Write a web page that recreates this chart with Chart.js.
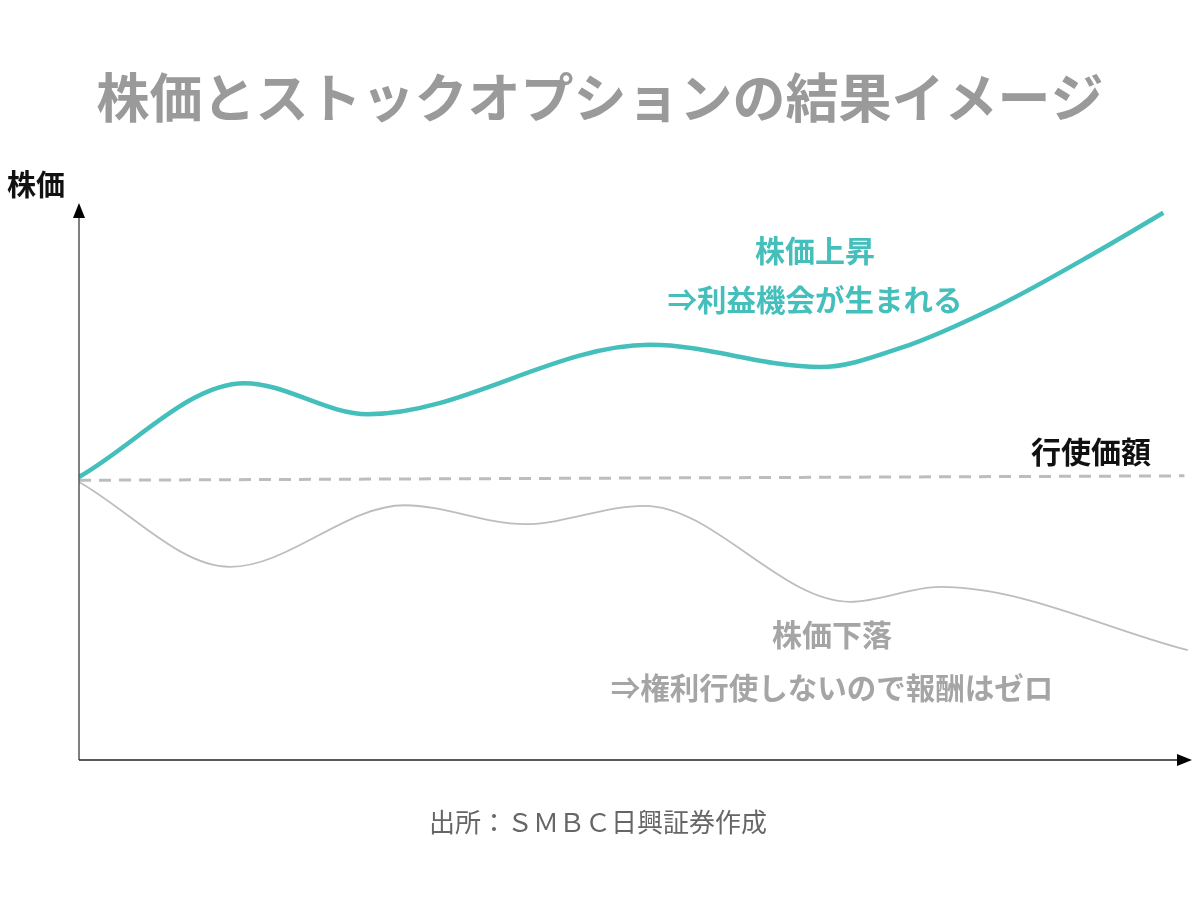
<!DOCTYPE html>
<html lang="ja">
<head>
<meta charset="utf-8">
<title>株価とストックオプションの結果イメージ</title>
<script src="https://cdn.jsdelivr.net/npm/chart.js@4.4.1/dist/chart.umd.min.js"></script>
<style>
  html, body { margin: 0; padding: 0; background: #fff; }
  #wrap { width: 1200px; height: 904px; }
</style>
</head>
<body>
<div id="wrap"><canvas id="optionChart" width="1200" height="904"></canvas></div>
<script>
// Image chart: values are abstract (time 0-100, price 0-100)
const riseX = [0, 14.9, 26.0, 51.4, 66.7, 73.9, 82.9, 91.9, 97.6];
const riseY = [51.0, 67.9, 62.3, 74.8, 70.8, 74.2, 82.0, 91.9, 98.6];

const fallX = [0, 13.6, 29.3, 40.1, 50.9, 69.4, 77.5, 99.8];
const fallY = [50.1, 34.8, 45.9, 42.5, 45.8, 28.5, 31.2, 19.8];

const strikeX = [0, 99.5];
const strikeY = [50.4, 51.2];

const titleText = '株価とストックオプションの結果イメージ';
const yAxisLabel = '株価';
const strikeLabel = '行使価額';
const riseLabels = ['株価上昇', '⇒利益機会が生まれる'];
const fallLabels = ['株価下落', '⇒権利行使しないので報酬はゼロ'];
const sourceText = '出所：ＳＭＢＣ日興証券作成';

const toPoints = (xs, ys) => xs.map((x, i) => ({ x, y: ys[i] }));

const FONT = '"Noto Sans CJK JP", "Noto Sans", sans-serif';
const TEAL = '#45bfbc';
const GRAY = '#bdbdbd';

const decorPlugin = {
  id: 'decor',
  afterDraw(chart) {
    const { ctx, chartArea } = chart;
    const left = chartArea.left;
    const bottom = chartArea.bottom;

    ctx.save();
    // axes with arrows
    ctx.lineWidth = 1.5;
    ctx.strokeStyle = '#555';
    ctx.beginPath();
    ctx.moveTo(left, bottom);
    ctx.lineTo(left, chartArea.top + 10);
    ctx.stroke();
    ctx.strokeStyle = '#222';
    ctx.beginPath();
    ctx.moveTo(left, bottom);
    ctx.lineTo(chartArea.right - 10, bottom);
    ctx.stroke();

    ctx.fillStyle = '#000';
    ctx.beginPath();
    ctx.moveTo(left, chartArea.top - 2);
    ctx.lineTo(left - 6, chartArea.top + 13);
    ctx.lineTo(left + 6, chartArea.top + 13);
    ctx.closePath();
    ctx.fill();
    ctx.beginPath();
    ctx.moveTo(chartArea.right + 2, bottom);
    ctx.lineTo(chartArea.right - 13, bottom - 6);
    ctx.lineTo(chartArea.right - 13, bottom + 6);
    ctx.closePath();
    ctx.fill();

    ctx.textBaseline = 'middle';
    // title
    ctx.textAlign = 'center';
    ctx.fillStyle = '#9a9a9a';
    ctx.font = 'bold 53px ' + FONT;
    ctx.fillText(titleText, 600, 98);

    // y axis label
    ctx.textAlign = 'left';
    ctx.fillStyle = '#111';
    ctx.font = 'bold 29px ' + FONT;
    ctx.fillText(yAxisLabel, 7, 185);

    // strike label
    ctx.textAlign = 'center';
    ctx.font = 'bold 30px ' + FONT;
    ctx.fillText(strikeLabel, 1091, 452);

    // rise labels
    ctx.fillStyle = TEAL;
    ctx.fillText(riseLabels[0], 815, 251);
    ctx.font = 'bold 29.5px ' + FONT;
    ctx.fillText(riseLabels[1], 815, 300);

    // fall labels
    ctx.fillStyle = '#a5a5a5';
    ctx.font = 'bold 30px ' + FONT;
    ctx.fillText(fallLabels[0], 832, 635);
    ctx.font = 'bold 29.5px ' + FONT;
    ctx.fillText(fallLabels[1], 832, 688);

    // source
    ctx.fillStyle = '#666';
    ctx.font = '26px ' + FONT;
    ctx.fillText(sourceText, 598, 822);
    ctx.restore();
  },
};

new Chart(document.getElementById('optionChart'), {
  type: 'line',
  data: {
    datasets: [
      {
        label: '行使価額',
        data: toPoints(strikeX, strikeY),
        borderColor: GRAY,
        borderWidth: 3,
        borderDash: [12, 8],
        pointRadius: 0,
        tension: 0,
      },
      {
        label: '株価下落',
        data: toPoints(fallX, fallY),
        borderColor: GRAY,
        borderWidth: 1.8,
        pointRadius: 0,
        cubicInterpolationMode: 'monotone',
      },
      {
        label: '株価上昇',
        data: toPoints(riseX, riseY),
        borderColor: TEAL,
        borderWidth: 4.5,
        pointRadius: 0,
        cubicInterpolationMode: 'monotone',
      },
    ],
  },
  options: {
    responsive: false,
    animation: false,
    devicePixelRatio: 1,
    layout: { padding: { left: 79, right: 10, top: 205, bottom: 144 } },
    plugins: {
      legend: { display: false },
      tooltip: { enabled: false },
      title: { display: false },
    },
    scales: {
      x: { type: 'linear', min: 0, max: 100, display: false },
      y: { type: 'linear', min: 0, max: 100, display: false },
    },
  },
  plugins: [decorPlugin],
});
</script>
</body>
</html>
